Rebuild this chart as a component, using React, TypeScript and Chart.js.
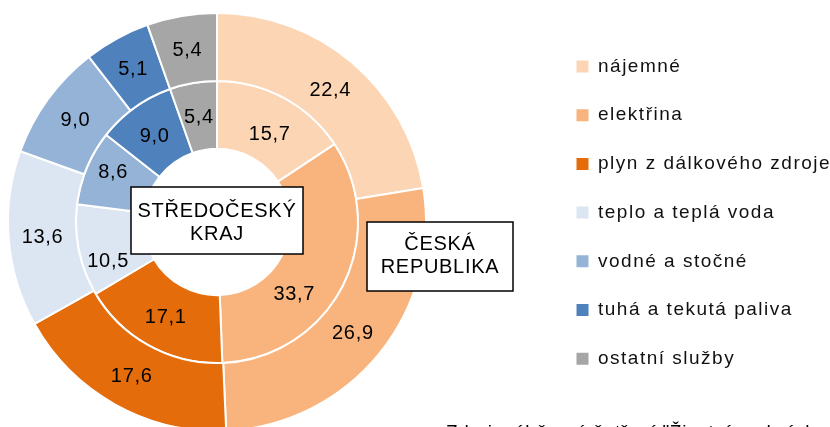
import React, { useEffect, useRef } from 'react';
import { Chart, registerables } from 'chart.js';

Chart.register(...registerables);

// ---- data ----
const categories = [
  'nájemné',
  'elektřina',
  'plyn z dálkového zdroje',
  'teplo a teplá voda',
  'vodné a stočné',
  'tuhá a tekutá paliva',
  'ostatní služby',
];
const ceskaRepublika = [22.4, 26.9, 17.6, 13.6, 9.0, 5.1, 5.4];
const stredocesky = [15.7, 33.7, 17.1, 10.5, 8.6, 9.0, 5.4];
const outerRingName = ['ČESKÁ', 'REPUBLIKA'];
const innerRingName = ['STŘEDOČESKÝ', 'KRAJ'];
const sourceNote = 'Zdroj: výběrové šetření "Životní podmínky 2017"';

// ---- styles ----
const colors = ['#FCD5B5', '#F8B47C', '#E46C0A', '#DCE6F2', '#95B3D7', '#4F81BD', '#A6A6A6'];
const FONT = '"Liberation Sans", Arial, sans-serif';
// manual nudges of some value labels (dataset-index) -> [dx, dy]
const labelNudge: Record<string, [number, number]> = {
  '1-0': [2, 5.5],
  '1-1': [-18, 22.5],
  '1-3': [-4, 16.5],
  '1-4': [-5, -9.5],
};

const fmt = (v: number) => v.toFixed(1).replace('.', ',');

const letterSpacingPlugin = {
  id: 'legendLetterSpacing',
  beforeLayout(chart: any) { chart.ctx.letterSpacing = '1.5px'; },
  afterLayout(chart: any) { chart.ctx.letterSpacing = '0px'; },
  beforeDraw(chart: any) { chart.ctx.letterSpacing = '1.5px'; },
  beforeDatasetsDraw(chart: any) { chart.ctx.letterSpacing = '0px'; },
};

function drawBox(ctx: CanvasRenderingContext2D, x: number, y: number, w: number, h: number, lines: string[], lineY: number[]) {
  ctx.fillStyle = '#fff';
  ctx.fillRect(x, y, w, h);
  ctx.strokeStyle = '#000';
  ctx.lineWidth = 1.5;
  ctx.strokeRect(x, y, w, h);
  ctx.fillStyle = '#000';
  lines.forEach((t, i) => ctx.fillText(t, x + w / 2, lineY[i]));
}

const labelsPlugin = {
  id: 'valueLabels',
  afterDraw(chart: any) {
    const ctx: CanvasRenderingContext2D = chart.ctx;
    ctx.save();
    (ctx as any).letterSpacing = '0.7px';
    ctx.font = `20px ${FONT}`;
    ctx.fillStyle = '#000';
    ctx.textAlign = 'center';
    ctx.textBaseline = 'middle';
    chart.data.datasets.forEach((ds: any, di: number) => {
      const meta = chart.getDatasetMeta(di);
      meta.data.forEach((arc: any, i: number) => {
        const p = arc.tooltipPosition(false);
        const n = labelNudge[`${di}-${i}`] || [0, 0];
        ctx.fillText(fmt(ds.data[i]), p.x + n[0], p.y + 1.5 + n[1]);
      });
    });
    const c = chart.getDatasetMeta(0).data[0];
    const cx = c.x;
    const cy = c.y;
    drawBox(ctx, cx - 86, cy - 35, 172, 67, innerRingName, [cy - 11, cy + 12]);
    drawBox(ctx, cx + 150, cy, 146, 69, outerRingName, [cy + 22, cy + 45.5]);
    // source note (mostly cut off by the frame)
    ctx.textAlign = 'left';
    ctx.textBaseline = 'alphabetic';
    ctx.font = `19px ${FONT}`;
    ctx.fillText(sourceNote, 446, 438);
    ctx.restore();
  },
};

export default function App() {
  const ref = useRef<HTMLCanvasElement | null>(null);
  useEffect(() => {
    if (!ref.current) return;
    const chart = new Chart(ref.current, {
      type: 'doughnut',
      data: {
        labels: categories,
        datasets: [
          {
            label: outerRingName.join(' '),
            data: ceskaRepublika,
            backgroundColor: colors,
            borderColor: '#ffffff',
            borderWidth: 2,
            hoverOffset: 0,
          },
          {
            label: innerRingName.join(' '),
            data: stredocesky,
            backgroundColor: colors,
            borderColor: '#ffffff',
            borderWidth: 2,
            hoverOffset: 0,
          },
        ],
      },
      options: {
        responsive: false,
        animation: false,
        events: [],
        cutout: '35%',
        layout: { padding: { left: 0, right: 0, top: 12, bottom: 8 } },
        plugins: {
          tooltip: { enabled: false },
          // empty spacer between doughnut and legend
          title: {
            display: true,
            position: 'right',
            weight: 0,
            text: '',
            font: { size: 10, lineHeight: 1 },
            padding: { top: 102.8, bottom: 0 },
          },
          legend: {
            display: true,
            position: 'right',
            align: 'start',
            maxWidth: 283.2,
            title: {
              display: true,
              text: '',
              font: { size: 10, lineHeight: 1 },
              padding: { top: 5.3, bottom: 0 },
            },
            labels: {
              boxWidth: 12,
              boxHeight: 12,
              padding: 29.7,
              color: '#111',
              font: { size: 19, family: FONT },
              generateLabels: () =>
                categories.map((text, i) => ({
                  text,
                  fillStyle: colors[i],
                  strokeStyle: colors[i],
                  lineWidth: 0,
                  hidden: false,
                  index: i,
                  fontColor: '#111',
                })),
            },
          },
        },
      } as any,
      plugins: [letterSpacingPlugin, labelsPlugin],
    });
    return () => chart.destroy();
  }, []);
  return (
    <div style={{ position: 'fixed', left: 0, top: 0, width: 830, height: 440, background: '#fff' }}>
      <canvas ref={ref} width={830} height={440} style={{ width: 830, height: 440, display: 'block' }} />
    </div>
  );
}
